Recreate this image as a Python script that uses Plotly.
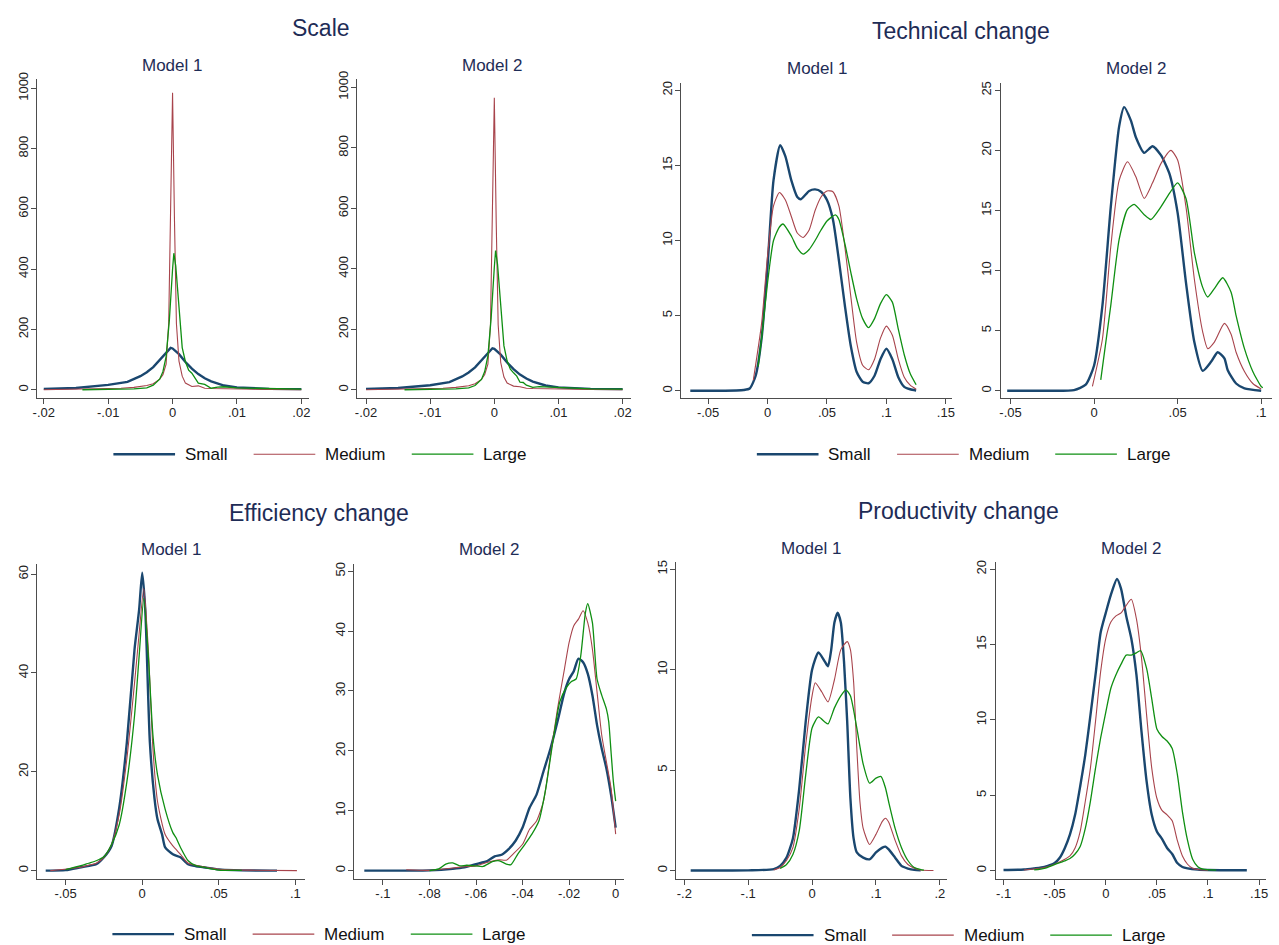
import plotly.graph_objects as go

# ---------------- labels ----------------
series_names = ["Small", "Medium", "Large"]
panel_titles = ["Scale", "Technical change", "Efficiency change", "Productivity change"]
model_titles = ["Model 1", "Model 2"]

# ---------------- tick labels ----------------
scale_xticks = [-0.02, -0.01, 0, 0.01, 0.02]
scale_xticklabels = ["-.02", "-.01", "0", ".01", ".02"]
scale_yticks = [0, 200, 400, 600, 800, 1000]
tech1_xticks = [-0.05, 0, 0.05, 0.1, 0.15]
tech1_xticklabels = ["-.05", "0", ".05", ".1", ".15"]
tech1_yticks = [0, 5, 10, 15, 20]
tech2_xticks = [-0.05, 0, 0.05, 0.1]
tech2_xticklabels = ["-.05", "0", ".05", ".1"]
tech2_yticks = [0, 5, 10, 15, 20, 25]
eff1_xticks = [-0.05, 0, 0.05, 0.1]
eff1_xticklabels = ["-.05", "0", ".05", ".1"]
eff1_yticks = [0, 20, 40, 60]
eff2_xticks = [-0.1, -0.08, -0.06, -0.04, -0.02, 0]
eff2_xticklabels = ["-.1", "-.08", "-.06", "-.04", "-.02", "0"]
eff2_yticks = [0, 10, 20, 30, 40, 50]
prod1_xticks = [-0.2, -0.1, 0, 0.1, 0.2]
prod1_xticklabels = ["-.2", "-.1", "0", ".1", ".2"]
prod1_yticks = [0, 5, 10, 15]
prod2_xticks = [-0.1, -0.05, 0, 0.05, 0.1, 0.15]
prod2_xticklabels = ["-.1", "-.05", "0", ".05", ".1", ".15"]
prod2_yticks = [0, 5, 10, 15, 20]

# ---------------- Scale, Model 1 ----------------
scale1_small_x = [-0.02, -0.015, -0.01, -0.007, -0.005, -0.004, -0.003, -0.002, -0.001, -0.0003, 0, 0.001, 0.002, 0.003, 0.004, 0.005, 0.006, 0.007, 0.008, 0.01, 0.015, 0.02]
scale1_small_y = [3, 6, 16, 26, 45, 58, 75, 100, 125, 139, 137, 118, 92, 70, 52, 38, 28, 20, 14, 8, 3, 2]
scale1_medium_x = [-0.02, -0.012, -0.008, -0.006, -0.004, -0.003, -0.002, -0.0015, -0.001, -0.0006, -0.0003, 0, 0.0003, 0.0006, 0.001, 0.0015, 0.002, 0.003, 0.004, 0.005, 0.006, 0.008, 0.01, 0.015, 0.02]
scale1_medium_y = [0, 2, 5, 8, 14, 20, 35, 50, 85, 220, 560, 985, 560, 220, 95, 45, 22, 11, 13, 5, 4, 3, 2, 1, 0]
scale1_large_x = [-0.014, -0.01, -0.006, -0.004, -0.003, -0.002, -0.0015, -0.001, -0.0005, 0, 0.0002, 0.0005, 0.001, 0.0015, 0.002, 0.0025, 0.003, 0.0035, 0.004, 0.005, 0.006, 0.007, 0.008, 0.01, 0.015, 0.02]
scale1_large_y = [0, 1, 3, 6, 15, 35, 60, 110, 230, 400, 453, 410, 270, 140, 93, 65, 55, 40, 22, 18, 5, 9, 10, 6, 3, 2]

# ---------------- Scale, Model 2 ----------------
scale2_small_x = [-0.02, -0.015, -0.01, -0.007, -0.005, -0.004, -0.003, -0.002, -0.001, -0.0003, 0, 0.001, 0.002, 0.003, 0.004, 0.005, 0.006, 0.007, 0.008, 0.01, 0.015, 0.02]
scale2_small_y = [3, 6, 15, 25, 44, 57, 74, 98, 123, 137, 135, 116, 90, 68, 50, 37, 27, 20, 14, 8, 3, 2]
scale2_medium_x = [-0.02, -0.012, -0.008, -0.006, -0.004, -0.003, -0.002, -0.0015, -0.001, -0.0006, -0.0003, 0, 0.0003, 0.0006, 0.001, 0.0015, 0.002, 0.003, 0.004, 0.005, 0.006, 0.008, 0.01, 0.015, 0.02]
scale2_medium_y = [0, 2, 5, 8, 13, 20, 34, 50, 85, 215, 550, 965, 550, 215, 90, 42, 22, 12, 10, 5, 4, 3, 2, 1, 0]
scale2_large_x = [-0.014, -0.01, -0.006, -0.004, -0.003, -0.002, -0.0015, -0.001, -0.0005, 0, 0.0002, 0.0005, 0.001, 0.0015, 0.002, 0.0025, 0.003, 0.0035, 0.004, 0.0045, 0.005, 0.006, 0.007, 0.008, 0.01, 0.015, 0.02]
scale2_large_y = [0, 1, 3, 6, 14, 34, 60, 112, 235, 405, 460, 415, 275, 145, 95, 68, 56, 45, 25, 24, 15, 8, 10, 9, 6, 3, 2]

# ---------------- Technical change, Model 1 ----------------
tech1_small_x = [-0.065, -0.04, -0.02, -0.015, -0.01, -0.005, 0, 0.005, 0.0106, 0.015, 0.02, 0.025, 0.028, 0.035, 0.04, 0.045, 0.05, 0.055, 0.06, 0.065, 0.07, 0.075, 0.08, 0.085, 0.09, 0.095, 0.1, 0.105, 0.11, 0.115, 0.12, 0.125]
tech1_small_y = [0, 0, 0.05, 0.15, 1.0, 3.5, 8.3, 14, 16.35, 15.6, 14, 12.9, 12.75, 13.3, 13.4, 13.25, 12.7, 11.4, 8.7, 5.7, 3.0, 1.25, 0.6, 0.5, 1.0, 2.1, 2.8, 2.1, 0.9, 0.26, 0.1, 0.02]
tech1_medium_x = [-0.012, -0.005, 0, 0.005, 0.01, 0.015, 0.02, 0.025, 0.03, 0.035, 0.04, 0.045, 0.05, 0.055, 0.06, 0.065, 0.07, 0.075, 0.08, 0.085, 0.09, 0.095, 0.1, 0.105, 0.11, 0.115, 0.12, 0.125]
tech1_medium_y = [0.7, 4.5, 9, 12.3, 13.2, 12.7, 11.6, 10.5, 10.2, 10.7, 12, 12.9, 13.3, 13.25, 12.3, 9.6, 6.3, 3.2, 1.7, 1.4, 2.1, 3.5, 4.3, 3.7, 2.1, 0.9, 0.37, 0.1]
tech1_large_x = [-0.008, -0.005, 0, 0.005, 0.01, 0.013, 0.02, 0.025, 0.03, 0.035, 0.04, 0.045, 0.05, 0.057, 0.06, 0.065, 0.07, 0.075, 0.08, 0.085, 0.09, 0.095, 0.1, 0.105, 0.11, 0.115, 0.12, 0.125]
tech1_large_y = [1.6, 3.5, 7.2, 10, 10.9, 11.1, 10.3, 9.5, 9.1, 9.4, 10, 10.7, 11.3, 11.7, 11.4, 9.8, 7.9, 6.1, 4.8, 4.2, 4.8, 5.8, 6.4, 5.9, 4.1, 2.4, 1.15, 0.4]

# ---------------- Technical change, Model 2 ----------------
tech2_small_x = [-0.052, -0.03, -0.012, -0.005, 0, 0.005, 0.01, 0.015, 0.018, 0.022, 0.025, 0.03, 0.035, 0.04, 0.045, 0.05, 0.055, 0.06, 0.065, 0.07, 0.074, 0.078, 0.08, 0.085, 0.09, 0.1]
tech2_small_y = [0, 0, 0.05, 0.5, 2.1, 7.1, 15.3, 22, 23.6, 22.5, 21.1, 19.8, 20.35, 19.6, 18.1, 14.8, 9, 4.05, 1.65, 2.4, 3.2, 2.7, 1.7, 0.6, 0.2, 0]
tech2_medium_x = [-0.001, 0.005, 0.01, 0.015, 0.02, 0.025, 0.03, 0.035, 0.04, 0.046, 0.05, 0.055, 0.06, 0.065, 0.068, 0.072, 0.078, 0.082, 0.085, 0.09, 0.095, 0.1]
tech2_medium_y = [0.35, 4.3, 12, 17.5, 19.05, 17.8, 16, 17.3, 18.9, 20, 19.2, 15.3, 9.3, 4.9, 3.5, 4.05, 5.6, 4.7, 3.2, 1.6, 0.6, 0.14]
tech2_large_x = [0.004, 0.01, 0.015, 0.02, 0.024, 0.03, 0.034, 0.04, 0.045, 0.05, 0.055, 0.06, 0.065, 0.068, 0.072, 0.077, 0.082, 0.085, 0.09, 0.095, 0.1, 0.101]
tech2_large_y = [0.9, 7.1, 12.6, 15.1, 15.5, 14.65, 14.25, 15.3, 16.4, 17.3, 16.0, 11.5, 8.6, 7.8, 8.5, 9.4, 8.2, 6.25, 3.5, 1.6, 0.35, 0.25]

# ---------------- Efficiency change, Model 1 ----------------
eff1_small_x = [-0.063, -0.05, -0.04, -0.03, -0.025, -0.02, -0.015, -0.01, -0.005, -0.002, 0, 0.002, 0.005, 0.008, 0.01, 0.013, 0.015, 0.02, 0.025, 0.03, 0.035, 0.04, 0.05, 0.06, 0.088]
eff1_small_y = [0, 0.1, 0.7, 1.3, 2.7, 5, 12.7, 26, 44.8, 52.8, 60.3, 52.8, 26, 14.7, 10.4, 7.3, 4.7, 3.3, 2.7, 1.3, 0.9, 0.7, 0.25, 0.1, 0]
eff1_medium_x = [-0.06, -0.04, -0.035, -0.03, -0.025, -0.02, -0.015, -0.01, -0.005, -0.002, 0.001, 0.004, 0.007, 0.01, 0.015, 0.02, 0.025, 0.03, 0.04, 0.05, 0.07, 0.101]
eff1_medium_y = [0, 0.7, 1.1, 1.5, 2.7, 5.3, 11.4, 22.7, 38, 48, 57.1, 44.8, 24.7, 14, 7.3, 5, 3.3, 1.5, 0.8, 0.3, 0.1, 0]
eff1_large_x = [-0.05, -0.04, -0.035, -0.03, -0.025, -0.02, -0.015, -0.01, -0.005, -0.002, 0.001, 0.004, 0.007, 0.01, 0.015, 0.02, 0.022, 0.025, 0.03, 0.035, 0.04, 0.05, 0.065]
eff1_large_y = [0.2, 1, 1.5, 2, 2.8, 5.3, 9.3, 18, 31.4, 43.4, 55.1, 43.4, 27.4, 19.4, 12.4, 7.7, 6.7, 4.7, 2, 1, 0.7, 0.1, 0.05]

# ---------------- Efficiency change, Model 2 ----------------
eff2_small_x = [-0.108, -0.08, -0.07, -0.065, -0.06, -0.055, -0.052, -0.049, -0.046, -0.043, -0.04, -0.037, -0.034, -0.031, -0.028, -0.025, -0.022, -0.02, -0.018, -0.016, -0.014, -0.012, -0.01, -0.008, -0.006, -0.004, -0.002, 0]
eff2_small_y = [0, 0.05, 0.3, 0.55, 1.1, 1.65, 2.4, 2.65, 3.6, 5, 7.2, 10.5, 12.7, 16.6, 20.4, 24.9, 29.8, 32, 33.3, 35.4, 34.8, 32.9, 29.3, 24.3, 20.4, 17.1, 12.7, 7.2]
eff2_medium_x = [-0.09, -0.08, -0.07, -0.065, -0.06, -0.055, -0.05, -0.047, -0.044, -0.04, -0.037, -0.034, -0.031, -0.028, -0.025, -0.022, -0.02, -0.018, -0.016, -0.014, -0.012, -0.01, -0.008, -0.006, -0.004, -0.002, 0]
eff2_medium_y = [0.15, 0.05, 0.45, 0.65, 0.8, 1.4, 1.8, 1.75, 2.8, 4.4, 6.9, 8.3, 11.6, 19.3, 27, 33.7, 38.1, 40.9, 42, 43.4, 41.4, 37, 29.8, 22.65, 18.2, 13.8, 6.1]
eff2_large_x = [-0.08, -0.076, -0.073, -0.07, -0.067, -0.064, -0.06, -0.057, -0.053, -0.05, -0.047, -0.045, -0.042, -0.039, -0.036, -0.033, -0.03, -0.027, -0.024, -0.021, -0.019, -0.017, -0.015, -0.013, -0.012, -0.01, -0.008, -0.006, -0.004, -0.003, -0.002, -0.001, 0]
eff2_large_y = [0, 0.3, 1.1, 1.3, 0.8, 0.9, 0.8, 0.7, 1.5, 1.65, 1.1, 1.0, 2.8, 4.4, 6.1, 8.3, 13.8, 21.5, 28.2, 30.7, 31.6, 32, 35.9, 43.1, 44.6, 41.4, 32, 29.3, 27, 24.9, 19.9, 14.9, 11.6]

# ---------------- Productivity change, Model 1 ----------------
prod1_small_x = [-0.19, -0.1, -0.06, -0.05, -0.04, -0.03, -0.02, -0.01, 0, 0.01, 0.02, 0.025, 0.03, 0.035, 0.04, 0.045, 0.05, 0.055, 0.06, 0.065, 0.07, 0.08, 0.09, 0.1, 0.11, 0.115, 0.12, 0.13, 0.14, 0.15, 0.16, 0.17]
prod1_small_y = [0, 0.01, 0.07, 0.23, 0.64, 1.6, 4.1, 7.4, 10, 10.86, 10.4, 10.17, 11, 12.35, 12.84, 12.35, 10.4, 7.4, 3.6, 1.6, 0.9, 0.64, 0.56, 0.9, 1.14, 1.19, 1.05, 0.64, 0.23, 0.1, 0.03, 0.01]
prod1_medium_x = [-0.06, -0.05, -0.04, -0.03, -0.02, -0.01, 0, 0.005, 0.015, 0.025, 0.035, 0.045, 0.055, 0.06, 0.065, 0.07, 0.075, 0.08, 0.09, 0.1, 0.11, 0.115, 0.12, 0.13, 0.14, 0.15, 0.16, 0.17, 0.19]
prod1_medium_y = [0.03, 0.15, 0.5, 1.14, 3.1, 6.25, 8.7, 9.35, 8.9, 8.4, 9.5, 11, 11.4, 11.0, 9.4, 6.1, 3.4, 2.1, 1.3, 1.8, 2.45, 2.6, 2.4, 1.5, 0.73, 0.3, 0.12, 0.03, 0]
prod1_large_x = [-0.05, -0.04, -0.03, -0.02, -0.01, 0, 0.01, 0.02, 0.025, 0.035, 0.045, 0.053, 0.06, 0.07, 0.08, 0.09, 0.1, 0.108, 0.115, 0.12, 0.13, 0.14, 0.15, 0.16, 0.17, 0.175]
prod1_large_y = [0.1, 0.3, 0.8, 2, 4.75, 7.1, 7.65, 7.4, 7.3, 8.1, 8.7, 9.0, 8.7, 7.1, 5.3, 4.35, 4.6, 4.68, 4.1, 3.4, 2.1, 1.14, 0.5, 0.15, 0.05, 0.02]

# ---------------- Productivity change, Model 2 ----------------
prod2_small_x = [-0.1, -0.08, -0.07, -0.06, -0.05, -0.045, -0.04, -0.035, -0.03, -0.025, -0.02, -0.015, -0.01, -0.005, 0, 0.005, 0.011, 0.015, 0.02, 0.025, 0.03, 0.035, 0.04, 0.045, 0.05, 0.055, 0.06, 0.065, 0.07, 0.075, 0.08, 0.09, 0.1, 0.138]
prod2_small_y = [0.04, 0.07, 0.15, 0.25, 0.5, 0.85, 1.5, 2.4, 3.7, 5.6, 7.7, 10.3, 13, 15.8, 17.1, 18.3, 19.35, 18.7, 16.9, 15.4, 13, 9.2, 5.9, 3.7, 2.6, 2.1, 1.5, 1.1, 0.5, 0.24, 0.15, 0.07, 0.04, 0.02]
prod2_medium_x = [-0.08, -0.06, -0.05, -0.04, -0.035, -0.03, -0.025, -0.02, -0.015, -0.01, -0.005, 0, 0.005, 0.01, 0.015, 0.02, 0.025, 0.03, 0.035, 0.04, 0.045, 0.05, 0.055, 0.06, 0.065, 0.07, 0.075, 0.08, 0.085, 0.09, 0.1]
prod2_medium_y = [0.04, 0.2, 0.42, 0.75, 0.97, 1.5, 2.6, 4.6, 6.8, 9.9, 13.2, 15.4, 16.5, 16.9, 17.1, 17.6, 18.0, 16.7, 14.1, 10.3, 6.8, 4.8, 4.0, 3.7, 3.3, 2.0, 0.97, 0.42, 0.15, 0.07, 0.03]
prod2_large_x = [-0.07, -0.06, -0.05, -0.04, -0.035, -0.03, -0.025, -0.02, -0.015, -0.01, -0.005, 0, 0.005, 0.01, 0.015, 0.02, 0.025, 0.03, 0.034, 0.04, 0.045, 0.05, 0.055, 0.06, 0.065, 0.07, 0.075, 0.08, 0.085, 0.09, 0.095, 0.108]
prod2_large_y = [0.04, 0.15, 0.4, 0.65, 0.8, 1.1, 1.6, 2.8, 4.6, 6.8, 8.8, 10.5, 12.1, 13, 13.7, 14.3, 14.3, 14.45, 14.6, 13.4, 11.4, 9.4, 8.9, 8.6, 8.1, 6.4, 3.9, 2.0, 0.75, 0.26, 0.1, 0.03]

# ---------------- styling ----------------
COLORS = ["#1a476f", "#a8444c", "#0f8f12"]
WIDTHS = [2.4, 1.1, 1.3]
TITLE_COLOR = "#1e2c56"
FONT = "Liberation Sans, Arial, sans-serif"
W, H = 1279, 945

# subplot boxes in pixels: (left, right, top, bottom)
boxes = [
    (33, 307, 72, 393), (355, 630, 72, 393),
    (681, 953, 76, 393), (1002, 1275, 76, 393),
    (33, 303, 561, 878), (352, 623, 561, 878),
    (676, 948, 559, 878), (997, 1269, 559, 878),
]
xranges = [(-0.02108, 0.02124), (-0.0214, 0.02124), (-0.0726, 0.155), (-0.056, 0.1065),
           (-0.0688, 0.1065), (-0.1124, 0.0034), (-0.2125, 0.2109), (-0.1078, 0.1568)]
yranges = [(-26.3, 1029.6), (-26.2, 1026), (-0.46, 20.46), (-0.58, 25.58),
           (-1.6, 62), (-1.32, 51.16), (-0.4, 15.35), (-0.53, 20.46)]

subplots = [
    (scale_xticks, scale_xticklabels, scale_yticks,
     [(scale1_small_x, scale1_small_y), (scale1_medium_x, scale1_medium_y), (scale1_large_x, scale1_large_y)]),
    (scale_xticks, scale_xticklabels, scale_yticks,
     [(scale2_small_x, scale2_small_y), (scale2_medium_x, scale2_medium_y), (scale2_large_x, scale2_large_y)]),
    (tech1_xticks, tech1_xticklabels, tech1_yticks,
     [(tech1_small_x, tech1_small_y), (tech1_medium_x, tech1_medium_y), (tech1_large_x, tech1_large_y)]),
    (tech2_xticks, tech2_xticklabels, tech2_yticks,
     [(tech2_small_x, tech2_small_y), (tech2_medium_x, tech2_medium_y), (tech2_large_x, tech2_large_y)]),
    (eff1_xticks, eff1_xticklabels, eff1_yticks,
     [(eff1_small_x, eff1_small_y), (eff1_medium_x, eff1_medium_y), (eff1_large_x, eff1_large_y)]),
    (eff2_xticks, eff2_xticklabels, eff2_yticks,
     [(eff2_small_x, eff2_small_y), (eff2_medium_x, eff2_medium_y), (eff2_large_x, eff2_large_y)]),
    (prod1_xticks, prod1_xticklabels, prod1_yticks,
     [(prod1_small_x, prod1_small_y), (prod1_medium_x, prod1_medium_y), (prod1_large_x, prod1_large_y)]),
    (prod2_xticks, prod2_xticklabels, prod2_yticks,
     [(prod2_small_x, prod2_small_y), (prod2_medium_x, prod2_medium_y), (prod2_large_x, prod2_large_y)]),
]

fig = go.Figure()
layout = dict(
    width=W, height=H, autosize=False,
    margin=dict(l=0, r=0, t=0, b=0, pad=0),
    paper_bgcolor="white", plot_bgcolor="white",
    showlegend=False,
    font=dict(family=FONT, color="#222222"),
)

axis_common = dict(showgrid=False, zeroline=False, showline=True, linecolor="#4d4d4d",
                   linewidth=1, ticks="outside", ticklen=5, tickcolor="#4d4d4d", tickwidth=1,
                   ticklabelstandoff=-2,
                   tickfont=dict(family=FONT, size=13, color="#222222"), fixedrange=True)

for i, (xt, xtl, yt, series) in enumerate(subplots):
    n = i + 1
    l, r, t, b = boxes[i]
    xa = "xaxis" if n == 1 else f"xaxis{n}"
    ya = "yaxis" if n == 1 else f"yaxis{n}"
    xref = "x" if n == 1 else f"x{n}"
    yref = "y" if n == 1 else f"y{n}"
    layout[xa] = dict(axis_common, domain=[l / W, r / W], range=list(xranges[i]), anchor=yref,
                      tickmode="array", tickvals=xt, ticktext=xtl)
    layout[ya] = dict(axis_common, domain=[1 - b / H, 1 - t / H], range=list(yranges[i]), anchor=xref,
                      tickmode="array", tickvals=yt, ticktext=[str(v) for v in yt], tickangle=-90)
    shape = "linear" if i < 2 else "spline"
    for k, (sx, sy) in enumerate(series):
        fig.add_trace(go.Scatter(
            x=sx, y=sy, mode="lines", name=series_names[k], xaxis=xref, yaxis=yref,
            line=dict(color=COLORS[k], width=WIDTHS[k], shape=shape,
                      **({"smoothing": 0.6} if shape == "spline" else {})),
            hoverinfo="skip", showlegend=False,
        ))

annotations = []
shapes = []

def add_text(text, px, py, size, color, xanchor="center"):
    annotations.append(dict(text=text, x=px / W, y=1 - py / H, xref="paper", yref="paper",
                            xanchor=xanchor, yanchor="middle", showarrow=False,
                            font=dict(family=FONT, size=size, color=color)))

# panel titles
title_pos = [(319, 20), (962, 23), (317, 509), (960, 507)]
for txt, (px, py) in zip(panel_titles, title_pos):
    add_text(txt, px, py, 23, TITLE_COLOR)

# model sub-titles
sub_pos = [(169, 58), (491, 58), (817, 61), (1138, 61),
           (168, 546), (488, 546), (811, 545), (1133, 545)]
for j, (px, py) in enumerate(sub_pos):
    add_text(model_titles[j % 2], px, py, 17, TITLE_COLOR)

# legends (key line + label), one per panel
legend_rows = [(110, 450), (757, 450), (109, 934), (752, 935)]
key_offsets = [0, 141, 300]
for (x0, py) in legend_rows:
    for k in range(3):
        kx = x0 + key_offsets[k]
        shapes.append(dict(type="line", xref="paper", yref="paper",
                           x0=kx / W, x1=(kx + 62) / W, y0=1 - py / H, y1=1 - py / H,
                           line=dict(color=COLORS[k], width=WIDTHS[k])))
        add_text(series_names[k], kx + 70, py, 17, "#111111", xanchor="left")

layout["annotations"] = annotations
layout["shapes"] = shapes
fig.update_layout(**layout)
fig.write_html(
    "out.html",
    config={"displayModeBar": False},
    post_script="document.documentElement.style.margin='0';document.body.style.margin='0';"
                "document.body.style.padding='0';document.body.style.overflow='hidden';",
)
